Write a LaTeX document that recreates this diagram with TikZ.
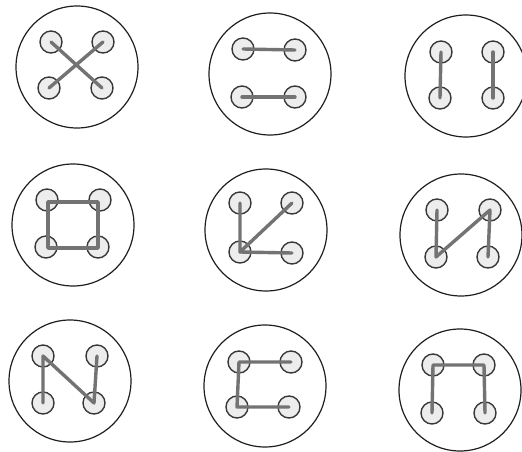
\documentclass[tikz,border=0pt]{standalone}
\begin{document}
\begin{tikzpicture}[x=1pt,y=-1pt,
  big/.style={circle,draw=black!88,line width=1.2pt,minimum size=122pt,inner sep=0pt},
  hole/.style={circle,draw=black!78,fill=black!7,line width=1.4pt,minimum size=22pt,inner sep=0pt},
  thread/.style={draw=black!55,line width=3.4pt,line cap=round,line join=round}]
\useasboundingbox (0,0) rectangle (522,452);
% Panel 1: X
\node[big] (b1) at (77,67) {};
\node[hole] (p1a) at (51,42) {};
\node[hole] (p1b) at (103,42) {};
\node[hole] (p1c) at (49,88) {};
\node[hole] (p1d) at (102,88) {};
\draw[thread] (p1a.center) -- (p1d.center);
\draw[thread] (p1b.center) -- (p1c.center);
% Panel 2: =
\node[big] (b2) at (270,74) {};
\node[hole] (p2a) at (243,49) {};
\node[hole] (p2b) at (295,50) {};
\node[hole] (p2c) at (242,97) {};
\node[hole] (p2d) at (295,97) {};
\draw[thread] (p2a.center) -- (p2b.center);
\draw[thread] (p2c.center) -- (p2d.center);
% Panel 3: ||
\node[big] (b3) at (466,76) {};
\node[hole] (p3a) at (441,52) {};
\node[hole] (p3b) at (493,52) {};
\node[hole] (p3c) at (440,98) {};
\node[hole] (p3d) at (493,98) {};
\draw[thread] (p3a.center) -- (p3c.center);
\draw[thread] (p3b.center) -- (p3d.center);
% Panel 4: square
\node[big] (b4) at (73,225) {};
\node[hole] (p4a) at (47,200) {};
\node[hole] (p4b) at (100,200) {};
\node[hole] (p4c) at (46,247) {};
\node[hole] (p4d) at (98,247) {};
\coordinate (q1) at (48,202);
\coordinate (q2) at (98,202);
\coordinate (q3) at (98,248);
\coordinate (q4) at (48,248);
\draw[thread,line cap=butt] (q1) -- (q2) -- (q3) -- (q4) -- cycle;
% Panel 5
\node[big] (b5) at (266,230) {};
\node[hole] (p5a) at (240,203) {};
\node[hole] (p5b) at (292,203) {};
\node[hole] (p5c) at (240,252) {};
\node[hole] (p5d) at (292,253) {};
\draw[thread] (p5a.center) -- (p5c.center) -- (p5b.center);
\draw[thread] (p5c.center) -- (p5d.center);
% Panel 6
\node[big] (b6) at (461,235) {};
\node[hole] (p6a) at (437,210) {};
\node[hole] (p6b) at (490,210) {};
\node[hole] (p6c) at (436,257) {};
\node[hole] (p6d) at (488,257) {};
\draw[thread] (p6a.center) -- (p6c.center) -- (p6b.center) -- (p6d.center);
% Panel 7: N
\node[big] (b7) at (70,381) {};
\node[hole] (p7a) at (43,356) {};
\node[hole] (p7b) at (97,356) {};
\node[hole] (p7c) at (43,403) {};
\node[hole] (p7d) at (94,403) {};
\draw[thread] (p7c.center) -- (p7a.center) -- (p7d.center) -- (p7b.center);
% Panel 8: C
\node[big] (b8) at (265,386) {};
\node[hole] (p8a) at (239,362) {};
\node[hole] (p8b) at (291,362) {};
\node[hole] (p8c) at (237,407) {};
\node[hole] (p8d) at (289,407) {};
\draw[thread] (p8b.center) -- (p8a.center) -- (p8c.center) -- (p8d.center);
% Panel 9
\node[big] (b9) at (460,390) {};
\node[hole] (p9a) at (433,365) {};
\node[hole] (p9b) at (484,365) {};
\node[hole] (p9c) at (432,413) {};
\node[hole] (p9d) at (485,413) {};
\draw[thread] (p9c.center) -- (p9a.center) -- (p9b.center) -- (p9d.center);
\end{tikzpicture}
\end{document}
